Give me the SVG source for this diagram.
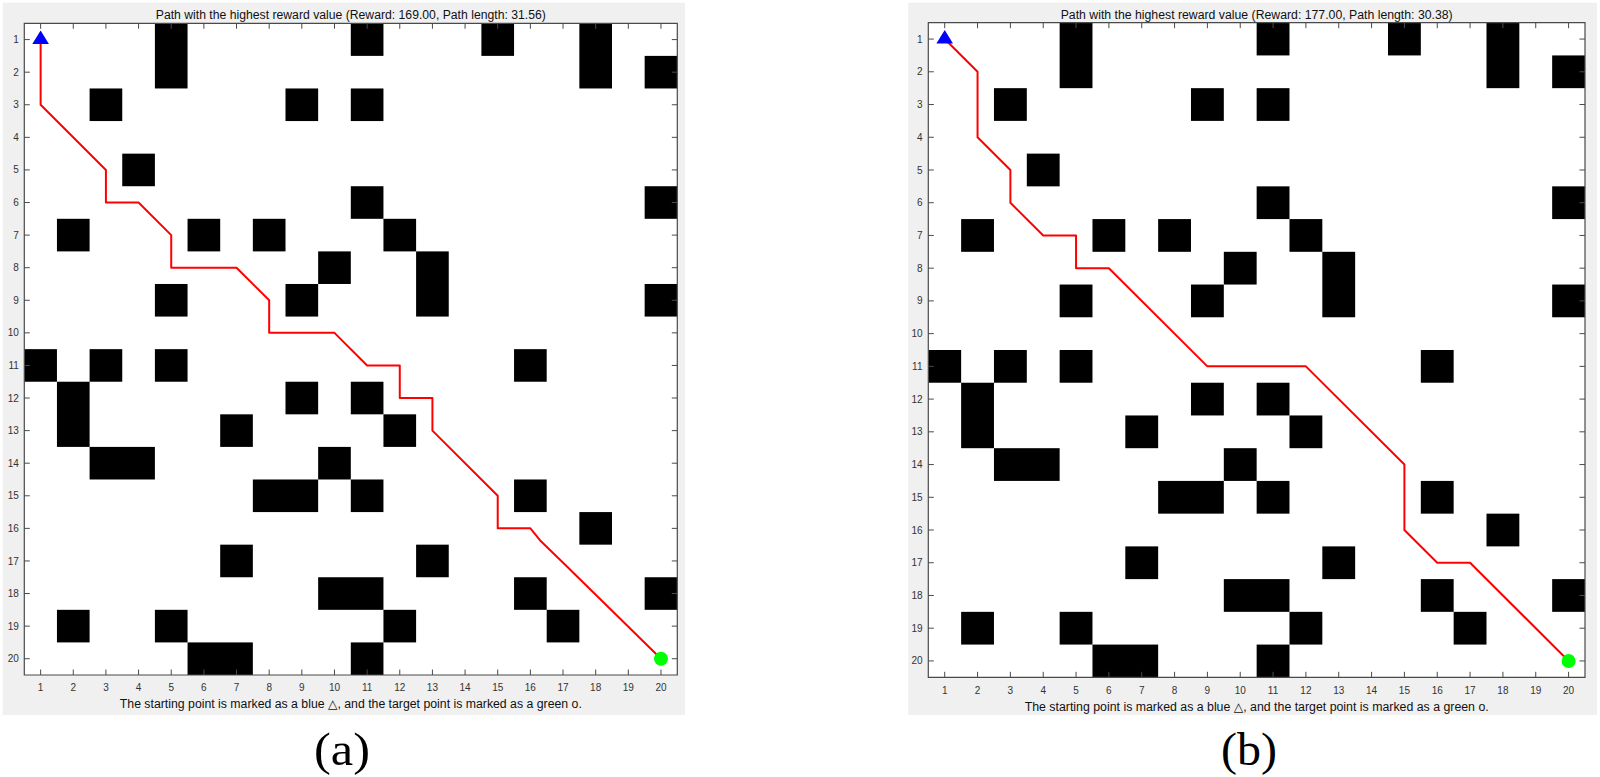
<svg xmlns="http://www.w3.org/2000/svg" xmlns:xlink="http://www.w3.org/1999/xlink" width="1600" height="777" viewBox="0 0 1600 777">
<style>
.bg{fill:#f0f0f0}
.plot{fill:#ffffff}
.box{fill:none;stroke:#4a4a4a;stroke-width:1.2;vector-effect:non-scaling-stroke}
.tick{fill:none;stroke:#4a4a4a;stroke-width:1;vector-effect:non-scaling-stroke}
.obs{fill:#000000}
.route{fill:none;stroke:#ff0000;stroke-width:2;stroke-linejoin:round;stroke-linecap:round;vector-effect:non-scaling-stroke}
.start{fill:#0000ff}
.goal{fill:#00ff00}
.tl{font-family:"Liberation Sans",Arial,sans-serif;font-size:10px;fill:#333333}
.tx{text-anchor:middle}
.ty{text-anchor:end}
.title{font-family:"Liberation Sans",Arial,"DejaVu Sans",sans-serif;font-size:12.3px;fill:#111111;text-anchor:middle}
.cap{font-family:"Liberation Serif","Times New Roman",serif;font-size:46px;fill:#000000;text-anchor:middle}
</style>
<defs>
<g id="map">
<rect class="obs" x="4.5" y="0.5" width="1" height="2"/>
<rect class="obs" x="10.5" y="0.5" width="1" height="1"/>
<rect class="obs" x="14.5" y="0.5" width="1" height="1"/>
<rect class="obs" x="17.5" y="0.5" width="1" height="2"/>
<rect class="obs" x="19.5" y="1.5" width="1" height="1"/>
<rect class="obs" x="2.5" y="2.5" width="1" height="1"/>
<rect class="obs" x="8.5" y="2.5" width="1" height="1"/>
<rect class="obs" x="10.5" y="2.5" width="1" height="1"/>
<rect class="obs" x="3.5" y="4.5" width="1" height="1"/>
<rect class="obs" x="10.5" y="5.5" width="1" height="1"/>
<rect class="obs" x="19.5" y="5.5" width="1" height="1"/>
<rect class="obs" x="1.5" y="6.5" width="1" height="1"/>
<rect class="obs" x="5.5" y="6.5" width="1" height="1"/>
<rect class="obs" x="7.5" y="6.5" width="1" height="1"/>
<rect class="obs" x="11.5" y="6.5" width="1" height="1"/>
<rect class="obs" x="9.5" y="7.5" width="1" height="1"/>
<rect class="obs" x="12.5" y="7.5" width="1" height="2"/>
<rect class="obs" x="4.5" y="8.5" width="1" height="1"/>
<rect class="obs" x="8.5" y="8.5" width="1" height="1"/>
<rect class="obs" x="19.5" y="8.5" width="1" height="1"/>
<rect class="obs" x="0.5" y="10.5" width="1" height="1"/>
<rect class="obs" x="2.5" y="10.5" width="1" height="1"/>
<rect class="obs" x="4.5" y="10.5" width="1" height="1"/>
<rect class="obs" x="15.5" y="10.5" width="1" height="1"/>
<rect class="obs" x="1.5" y="11.5" width="1" height="2"/>
<rect class="obs" x="8.5" y="11.5" width="1" height="1"/>
<rect class="obs" x="10.5" y="11.5" width="1" height="1"/>
<rect class="obs" x="6.5" y="12.5" width="1" height="1"/>
<rect class="obs" x="11.5" y="12.5" width="1" height="1"/>
<rect class="obs" x="2.5" y="13.5" width="2" height="1"/>
<rect class="obs" x="9.5" y="13.5" width="1" height="1"/>
<rect class="obs" x="7.5" y="14.5" width="2" height="1"/>
<rect class="obs" x="10.5" y="14.5" width="1" height="1"/>
<rect class="obs" x="15.5" y="14.5" width="1" height="1"/>
<rect class="obs" x="17.5" y="15.5" width="1" height="1"/>
<rect class="obs" x="6.5" y="16.5" width="1" height="1"/>
<rect class="obs" x="12.5" y="16.5" width="1" height="1"/>
<rect class="obs" x="9.5" y="17.5" width="2" height="1"/>
<rect class="obs" x="15.5" y="17.5" width="1" height="1"/>
<rect class="obs" x="19.5" y="17.5" width="1" height="1"/>
<rect class="obs" x="1.5" y="18.5" width="1" height="1"/>
<rect class="obs" x="4.5" y="18.5" width="1" height="1"/>
<rect class="obs" x="11.5" y="18.5" width="1" height="1"/>
<rect class="obs" x="16.5" y="18.5" width="1" height="1"/>
<rect class="obs" x="5.5" y="19.5" width="2" height="1"/>
<rect class="obs" x="10.5" y="19.5" width="1" height="1"/>
</g>
</defs>

<!-- Panel (a) -->
<g id="panel-a">
<rect class="bg" x="2.7" y="2.7" width="682.3" height="712.3"/>
<text class="title" x="350.8" y="19.4" textLength="390" lengthAdjust="spacingAndGlyphs">Path with the highest reward value (Reward: 169.00, Path length: 31.56)</text>
<g id="grid-a" transform="translate(7.975,7.0075) scale(32.65,32.585)">
<rect class="plot" x="0.5" y="0.5" width="20" height="20"/>
<use xlink:href="#map" href="#map"/>
<path class="tick" d="M1 0.5v0.168M2 0.5v0.168M3 0.5v0.168M4 0.5v0.168M5 0.5v0.168M6 0.5v0.168M7 0.5v0.168M8 0.5v0.168M9 0.5v0.168M10 0.5v0.168M11 0.5v0.168M12 0.5v0.168M13 0.5v0.168M14 0.5v0.168M15 0.5v0.168M16 0.5v0.168M17 0.5v0.168M18 0.5v0.168M19 0.5v0.168M20 0.5v0.168M1 20.5v-0.168M2 20.5v-0.168M3 20.5v-0.168M4 20.5v-0.168M5 20.5v-0.168M6 20.5v-0.168M7 20.5v-0.168M8 20.5v-0.168M9 20.5v-0.168M10 20.5v-0.168M11 20.5v-0.168M12 20.5v-0.168M13 20.5v-0.168M14 20.5v-0.168M15 20.5v-0.168M16 20.5v-0.168M17 20.5v-0.168M18 20.5v-0.168M19 20.5v-0.168M20 20.5v-0.168M0.5 1h0.168M0.5 2h0.168M0.5 3h0.168M0.5 4h0.168M0.5 5h0.168M0.5 6h0.168M0.5 7h0.168M0.5 8h0.168M0.5 9h0.168M0.5 10h0.168M0.5 11h0.168M0.5 12h0.168M0.5 13h0.168M0.5 14h0.168M0.5 15h0.168M0.5 16h0.168M0.5 17h0.168M0.5 18h0.168M0.5 19h0.168M0.5 20h0.168M20.5 1h-0.168M20.5 2h-0.168M20.5 3h-0.168M20.5 4h-0.168M20.5 5h-0.168M20.5 6h-0.168M20.5 7h-0.168M20.5 8h-0.168M20.5 9h-0.168M20.5 10h-0.168M20.5 11h-0.168M20.5 12h-0.168M20.5 13h-0.168M20.5 14h-0.168M20.5 15h-0.168M20.5 16h-0.168M20.5 17h-0.168M20.5 18h-0.168M20.5 19h-0.168M20.5 20h-0.168"/>
<rect class="box" x="0.5" y="0.5" width="20" height="20"/>
</g>
<g id="connectors-a" transform="translate(7.975,7.0075) scale(32.65,32.585)">
<path id="route-a" class="route" d="M1 1L1 3L3 5L3 6L4 6L5 7L5 8L7 8L8 9L8 10L10 10L11 11L12 11L12 12L13 12L13 13L15 15L15 16L16 16L16.3 16.37L17.05 17.1L20 20"/>
</g>
<g id="start-a"><polygon class="start" points="40.63,30.6 32.3,44.1 48.9,44.1"/></g>
<g id="goal-a"><circle class="goal" cx="660.98" cy="658.71" r="7"/></g>
<g id="xlabels-a" class="tl tx">
<text x="40.63" y="691.3">1</text><text x="73.28" y="691.3">2</text><text x="105.93" y="691.3">3</text><text x="138.58" y="691.3">4</text><text x="171.23" y="691.3">5</text><text x="203.88" y="691.3">6</text><text x="236.53" y="691.3">7</text><text x="269.18" y="691.3">8</text><text x="301.83" y="691.3">9</text><text x="334.48" y="691.3">10</text><text x="367.13" y="691.3">11</text><text x="399.78" y="691.3">12</text><text x="432.43" y="691.3">13</text><text x="465.08" y="691.3">14</text><text x="497.73" y="691.3">15</text><text x="530.38" y="691.3">16</text><text x="563.03" y="691.3">17</text><text x="595.68" y="691.3">18</text><text x="628.33" y="691.3">19</text><text x="660.98" y="691.3">20</text>
</g>
<g id="ylabels-a" class="tl ty">
<text x="18.8" y="43.1">1</text><text x="18.8" y="75.7">2</text><text x="18.8" y="108.3">3</text><text x="18.8" y="140.9">4</text><text x="18.8" y="173.4">5</text><text x="18.8" y="206.0">6</text><text x="18.8" y="238.6">7</text><text x="18.8" y="271.2">8</text><text x="18.8" y="303.8">9</text><text x="18.8" y="336.4">10</text><text x="18.8" y="368.9">11</text><text x="18.8" y="401.5">12</text><text x="18.8" y="434.1">13</text><text x="18.8" y="466.7">14</text><text x="18.8" y="499.3">15</text><text x="18.8" y="531.9">16</text><text x="18.8" y="564.5">17</text><text x="18.8" y="597.0">18</text><text x="18.8" y="629.6">19</text><text x="18.8" y="662.2">20</text>
</g>
<text class="title" x="350.8" y="708.4" textLength="462" lengthAdjust="spacingAndGlyphs">The starting point is marked as a blue △, and the target point is marked as a green o.</text>
<text class="cap" x="342" y="765" textLength="56" lengthAdjust="spacingAndGlyphs">(a)</text>
</g>

<!-- Panel (b) -->
<g id="panel-b">
<rect class="bg" x="908.3" y="2.7" width="688.7" height="712.3"/>
<text class="title" x="1256.7" y="19.4" textLength="392" lengthAdjust="spacingAndGlyphs">Path with the highest reward value (Reward: 177.00, Path length: 30.38)</text>
<g id="grid-b" transform="translate(911.8825,6.335) scale(32.835,32.73)">
<rect class="plot" x="0.5" y="0.5" width="20" height="20"/>
<use xlink:href="#map" href="#map"/>
<path class="tick" d="M1 0.5v0.168M2 0.5v0.168M3 0.5v0.168M4 0.5v0.168M5 0.5v0.168M6 0.5v0.168M7 0.5v0.168M8 0.5v0.168M9 0.5v0.168M10 0.5v0.168M11 0.5v0.168M12 0.5v0.168M13 0.5v0.168M14 0.5v0.168M15 0.5v0.168M16 0.5v0.168M17 0.5v0.168M18 0.5v0.168M19 0.5v0.168M20 0.5v0.168M1 20.5v-0.168M2 20.5v-0.168M3 20.5v-0.168M4 20.5v-0.168M5 20.5v-0.168M6 20.5v-0.168M7 20.5v-0.168M8 20.5v-0.168M9 20.5v-0.168M10 20.5v-0.168M11 20.5v-0.168M12 20.5v-0.168M13 20.5v-0.168M14 20.5v-0.168M15 20.5v-0.168M16 20.5v-0.168M17 20.5v-0.168M18 20.5v-0.168M19 20.5v-0.168M20 20.5v-0.168M0.5 1h0.168M0.5 2h0.168M0.5 3h0.168M0.5 4h0.168M0.5 5h0.168M0.5 6h0.168M0.5 7h0.168M0.5 8h0.168M0.5 9h0.168M0.5 10h0.168M0.5 11h0.168M0.5 12h0.168M0.5 13h0.168M0.5 14h0.168M0.5 15h0.168M0.5 16h0.168M0.5 17h0.168M0.5 18h0.168M0.5 19h0.168M0.5 20h0.168M20.5 1h-0.168M20.5 2h-0.168M20.5 3h-0.168M20.5 4h-0.168M20.5 5h-0.168M20.5 6h-0.168M20.5 7h-0.168M20.5 8h-0.168M20.5 9h-0.168M20.5 10h-0.168M20.5 11h-0.168M20.5 12h-0.168M20.5 13h-0.168M20.5 14h-0.168M20.5 15h-0.168M20.5 16h-0.168M20.5 17h-0.168M20.5 18h-0.168M20.5 19h-0.168M20.5 20h-0.168"/>
<rect class="box" x="0.5" y="0.5" width="20" height="20"/>
</g>
<g id="connectors-b" transform="translate(911.8825,6.335) scale(32.835,32.73)">
<path id="route-b" class="route" d="M1 1L2 2L2 4L3 5L3 6L4 7L5 7L5 8L6 8L9 11L12 11L15 14L15 16L16 17L17 17L20 20"/>
</g>
<g id="start-b"><polygon class="start" points="944.72,30.1 936.4,43.6 953.0,43.6"/></g>
<g id="goal-b"><circle class="goal" cx="1568.58" cy="660.94" r="7"/></g>
<g id="xlabels-b" class="tl tx">
<text x="944.72" y="693.6">1</text><text x="977.55" y="693.6">2</text><text x="1010.39" y="693.6">3</text><text x="1043.22" y="693.6">4</text><text x="1076.06" y="693.6">5</text><text x="1108.89" y="693.6">6</text><text x="1141.73" y="693.6">7</text><text x="1174.56" y="693.6">8</text><text x="1207.40" y="693.6">9</text><text x="1240.23" y="693.6">10</text><text x="1273.07" y="693.6">11</text><text x="1305.90" y="693.6">12</text><text x="1338.74" y="693.6">13</text><text x="1371.57" y="693.6">14</text><text x="1404.41" y="693.6">15</text><text x="1437.24" y="693.6">16</text><text x="1470.08" y="693.6">17</text><text x="1502.91" y="693.6">18</text><text x="1535.75" y="693.6">19</text><text x="1568.58" y="693.6">20</text>
</g>
<g id="ylabels-b" class="tl ty">
<text x="922.5" y="42.6">1</text><text x="922.5" y="75.3">2</text><text x="922.5" y="108.0">3</text><text x="922.5" y="140.8">4</text><text x="922.5" y="173.5">5</text><text x="922.5" y="206.2">6</text><text x="922.5" y="239.0">7</text><text x="922.5" y="271.7">8</text><text x="922.5" y="304.4">9</text><text x="922.5" y="337.1">10</text><text x="922.5" y="369.9">11</text><text x="922.5" y="402.6">12</text><text x="922.5" y="435.3">13</text><text x="922.5" y="468.1">14</text><text x="922.5" y="500.8">15</text><text x="922.5" y="533.5">16</text><text x="922.5" y="566.3">17</text><text x="922.5" y="599.0">18</text><text x="922.5" y="631.7">19</text><text x="922.5" y="664.4">20</text>
</g>
<text class="title" x="1256.7" y="710.8" textLength="464" lengthAdjust="spacingAndGlyphs">The starting point is marked as a blue △, and the target point is marked as a green o.</text>
<text class="cap" x="1249" y="765" textLength="56" lengthAdjust="spacingAndGlyphs">(b)</text>
</g>
</svg>
